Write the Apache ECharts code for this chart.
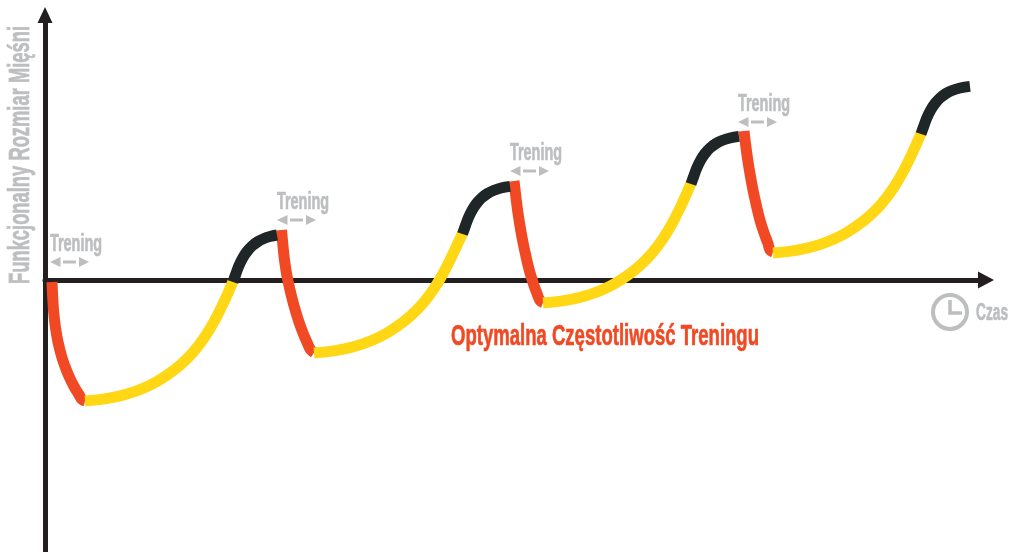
<!DOCTYPE html>
<html><head><meta charset="utf-8">
<style>html,body{margin:0;padding:0;background:#fff}#c{width:1018px;height:552px}</style>
<script src="https://cdn.jsdelivr.net/npm/echarts@6/dist/echarts.min.js"></script>
</head><body><div id="c"></div>
<script>
const recovery = [
  [[7,-2],[7.7,-17],[8.7,-32],[10.4,-47],[13,-62],[16.8,-77],[20.2,-87],[24.3,-97],[29.3,-107],[33.6,-114],[37,-119.5],[40,-121]],
  [[236.5,50],[237.9,35],[239.5,20],[241.8,5],[245,-10],[248.8,-25],[253.3,-40],[258,-53],[262.3,-63],[265.5,-69.5],[269,-72.5]],
  [[469,99],[470.8,84],[472.7,69],[475,54],[477.7,39],[480.9,24],[484.5,9],[488.5,-4],[491.8,-13],[495,-20.5],[498,-22.5]],
  [[699,149],[700.8,134],[702.9,119],[705.4,104],[708.2,89],[711.5,74],[715.2,59],[719.4,46],[722.8,37],[725,30],[728,28]]
];
const growth = [
  [[40,-121],[52,-119.9],[64,-118.1],[76,-115.6],[88,-112.1],[100,-107.5],[112,-101.5],[124,-93.8],[136,-84.4],[148,-72.4],[160,-56.6],[170,-39.9],[180,-19.6],[188,-1.4]],
  [[269,-73],[281,-71.9],[293,-70.1],[305,-67.6],[317,-64.1],[329,-59.5],[341,-53.5],[353,-45.8],[365,-36.4],[377,-24.4],[389,-8.6],[399,8.1],[409,28.4],[417.5,46.6]],
  [[498,-23],[510,-21.9],[522,-20.1],[534,-17.6],[546,-14.1],[558,-9.5],[570,-3.5],[582,4.2],[594,13.6],[606,25.6],[618,41.4],[628,58.1],[638,78.4],[646,96.6]],
  [[728,27],[740,28.1],[752,29.9],[764,32.4],[776,35.9],[788,40.5],[800,46.5],[812,54.2],[824,63.6],[836,75.6],[848,91.4],[858,108.1],[868,128.4],[876,146.6]]
];
const peak = [
  [[188,-2],[191,6.5],[194,14.5],[198,22.5],[202,28.5],[207,34],[213,38.5],[219,41.5],[225,43.5],[232,45]],
  [[417.5,46],[420.5,54.5],[423.5,62.5],[427.5,70.5],[431.5,76.5],[436.5,82],[442.5,86.5],[448.5,89.5],[456,92],[465,93.6]],
  [[646,96],[649,104.5],[652,112.5],[656,120.5],[660,126.5],[665,132],[671,136.5],[677,139.5],[685,142],[694,143.6]],
  [[876,146],[879,154.5],[882,162.5],[886,170.5],[890,176.5],[895,182],[901,186.5],[907,189.5],[915,192],[925,193.6]]
];
const trainingLabel = 'Trening';
const trainingAnchors = [[5,18],[232,60],[465,109],[693,158]];
const yTitle = 'Funkcjonalny Rozmiar Mięśni';
const xTitle = 'Czas';
const mainTitle = 'Optymalna Częstotliwość Treningu';

const RED='#f04923', YEL='#ffd714', DARK='#1f2627', AX='#231f20', GR='#bcbec0';
const FAMILY='"Liberation Sans",sans-serif';
const seg=(name,data,color)=>({name,type:'line',data,smooth:0.4,symbol:'none',silent:true,
  lineStyle:{color,width:11,cap:'butt',join:'round'},z:3});
const series=[];
[['Trening',recovery,RED],['Regeneracja',growth,YEL],['Superkompensacja',peak,DARK]].forEach(([n,arr,c])=>{
  arr.forEach(d=>series.push(seg(n,d,c)));
});
const chart=echarts.init(document.getElementById('c'),null,{renderer:'canvas'});
const axisCommon={type:'value',axisTick:{show:false},axisLabel:{show:false},splitLine:{show:false}};
chart.setOption({
  animation:false,backgroundColor:'#fff',
  grid:{left:45,top:15,width:941,height:537},
  xAxis:{...axisCommon,min:0,max:941,
    axisLine:{onZero:true,symbol:['none','triangle'],symbolSize:[17,16],lineStyle:{color:AX,width:5}}},
  yAxis:{...axisCommon,min:-272,max:265,
    axisLine:{onZero:true,symbol:['none','triangle'],symbolSize:[15,16],lineStyle:{color:AX,width:5}}},
  series
});
const mctx=document.createElement('canvas').getContext('2d');
function txt(text,x,y,size,color,width,rot){
  mctx.font='bold '+size+'px "Liberation Sans"';
  const sx=width/mctx.measureText(text).width;
  const r=rot||0;
  const asc=size*0.8;
  return {type:'text',x:x-Math.sin(r)*asc,y:y-Math.cos(r)*asc,rotation:r,scaleX:sx,scaleY:1,z:10,
    style:{text,fill:color,stroke:color,lineWidth:0.7,fontFamily:FAMILY,fontWeight:'bold',fontSize:size,align:'left',verticalAlign:'top'}};
}
const gfx=[];
trainingAnchors.forEach(a=>{
  const [x,y]=chart.convertToPixel({gridIndex:0},a);
  gfx.push(txt(trainingLabel,x,y-10,23,GR,52));
  gfx.push({type:'polygon',z:10,shape:{points:[[x,y],[x+10.5,y-5],[x+10.5,y+5]]},style:{fill:GR}});
  gfx.push({type:'rect',z:10,shape:{x:x+13,y:y-1.5,width:13,height:3},style:{fill:GR}});
  gfx.push({type:'polygon',z:10,shape:{points:[[x+39,y],[x+29,y-5],[x+29,y+5]]},style:{fill:GR}});
});
gfx.push(txt(mainTitle,451,346,30,RED,308));
gfx.push(txt(xTitle,976,321,23,GR,32));
gfx.push(txt(yTitle,30,284,30,GR,258,Math.PI/2));
gfx.push({type:'circle',z:10,shape:{cx:950,cy:312,r:17},style:{fill:'none',stroke:GR,lineWidth:4}});
gfx.push({type:'polyline',z:10,shape:{points:[[950,300],[950,313],[962,313]]},style:{fill:'none',stroke:GR,lineWidth:3.5}});
chart.setOption({graphic:{elements:gfx}});
</script></body></html>
